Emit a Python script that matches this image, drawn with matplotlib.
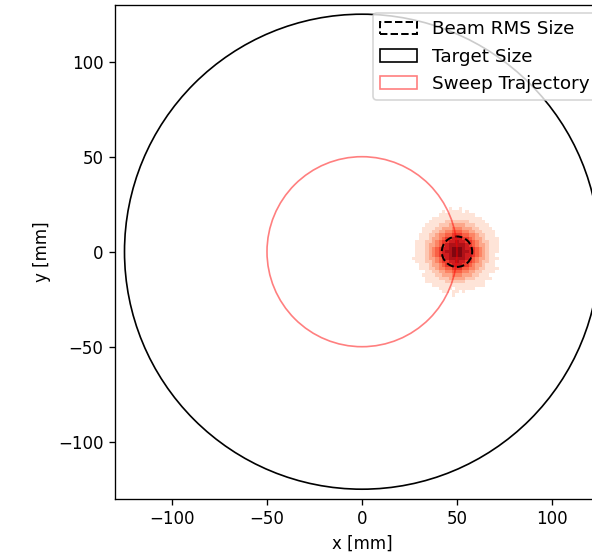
import matplotlib
matplotlib.use('Agg')
import matplotlib.pyplot as plt
import numpy as np
from matplotlib.patches import Circle

# beam spot histogram, levels 0-9 (top row = +y)
beam_rows = [
    "000000000001001000000000000",
    "000000000101111010000000000",
    "000000001111111111100000000",
    "000000111111111111111000000",
    "000001111122222221111100000",
    "000011112223333322211110000",
    "000111122333444333221111000",
    "000111223344555443322111100",
    "001112234455666554432211100",
    "001112334566777665433211110",
    "011122345667787766543221110",
    "011123345678888876543321110",
    "011123456778999877654321110",
    "011123456788999887654321110",
    "011123456778999877654321100",
    "111123345678888876543321110",
    "011122345667787766543221100",
    "001112334566777665433211100",
    "001112234455666554432211110",
    "000011223344555443322111100",
    "000111122333444333221110000",
    "000011112223333322211111000",
    "000011111122222211111100000",
    "000000111111111111111100000",
    "000000001111011111100000000",
    "000000000110110100000000000",
    "000000000000100000000000000",
]
bin_width = 1.75          # mm
beam_center = (50, 0)     # mm
rms_radius = 8            # mm
target_radius = 125       # mm
sweep_radius = 50         # mm

counts = np.array([[int(c) for c in row] for row in beam_rows])[::-1]
n = counts.shape[0]
xedges = beam_center[0] + (np.arange(n + 1) - n / 2) * bin_width
yedges = beam_center[1] + (np.arange(n + 1) - n / 2) * bin_width

fig = plt.figure(figsize=(592 / 120, 560 / 120), dpi=120)
ax = fig.add_axes([115 / 592, 61.3 / 560, 494 / 592, 494 / 560])

ax.pcolormesh(xedges, yedges, np.ma.masked_equal(counts, 0),
              cmap='Reds', vmin=0, vmax=9.5)

beam = Circle(beam_center, rms_radius, fill=False, edgecolor='black',
              linestyle='--', linewidth=1.2, label='Beam RMS Size')
target = Circle((0, 0), target_radius, fill=False, edgecolor='black',
                label='Target Size')
sweep = Circle((0, 0), sweep_radius, fill=False, edgecolor='red',
               alpha=0.5, label='Sweep Trajectory')
for p in (beam, target, sweep):
    ax.add_patch(p)

ax.set_xlim(-130, 130)
ax.set_ylim(-130, 130)
ax.set_xticks([-100, -50, 0, 50, 100])
ax.set_yticks([-100, -50, 0, 50, 100])
ax.set_xlabel('x [mm]')
ax.set_ylabel('y [mm]')
ax.legend(handles=[beam, target, sweep], loc='upper left',
          bbox_to_anchor=(258 / 494, 485.7 / 494), borderaxespad=0,
          fontsize=11)

fig.savefig('out.png', dpi=120)
